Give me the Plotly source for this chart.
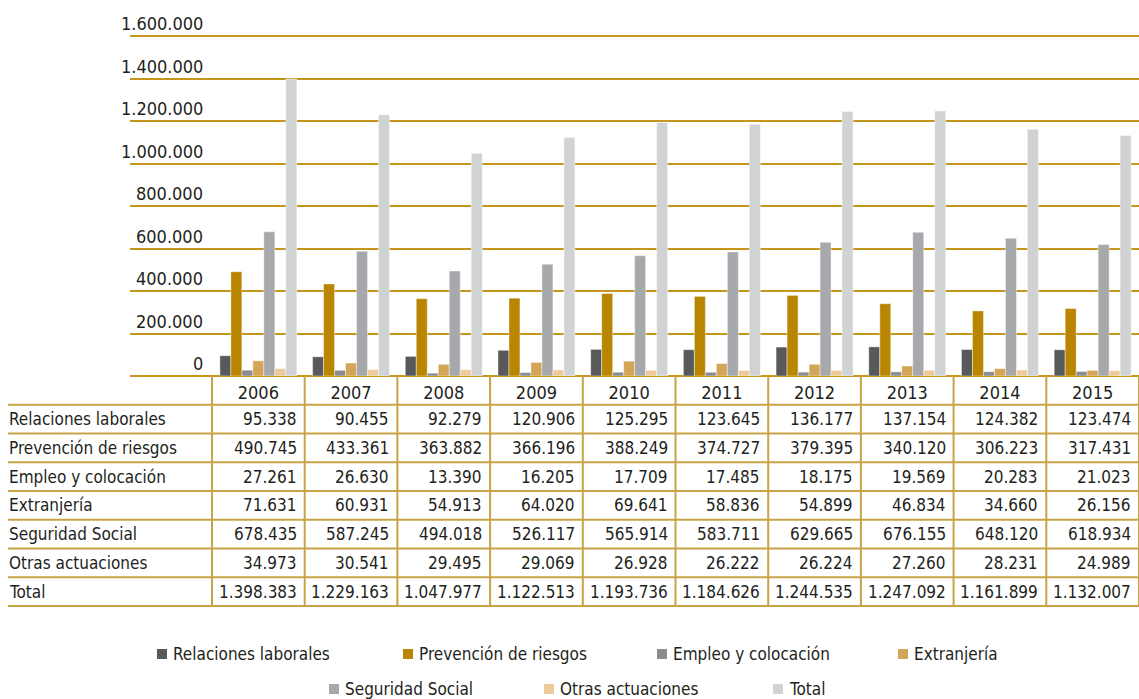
import plotly.graph_objects as go

years = ["2006", "2007", "2008", "2009", "2010", "2011", "2012", "2013", "2014", "2015"]
relaciones = [95338, 90455, 92279, 120906, 125295, 123645, 136177, 137154, 124382, 123474]
prevencion = [490745, 433361, 363882, 366196, 388249, 374727, 379395, 340120, 306223, 317431]
empleo = [27261, 26630, 13390, 16205, 17709, 17485, 18175, 19569, 20283, 21023]
extranjeria = [71631, 60931, 54913, 64020, 69641, 58836, 54899, 46834, 34660, 26156]
seguridad = [678435, 587245, 494018, 526117, 565914, 583711, 629665, 676155, 648120, 618934]
otras = [34973, 30541, 29495, 29069, 26928, 26222, 26224, 27260, 28231, 24989]
total = [1398383, 1229163, 1047977, 1122513, 1193736, 1184626, 1244535, 1247092, 1161899, 1132007]

series_names = ["Relaciones laborales", "Prevención de riesgos", "Empleo y colocación",
                "Extranjería", "Seguridad Social", "Otras actuaciones", "Total"]
series_values = [relaciones, prevencion, empleo, extranjeria, seguridad, otras, total]
series_colors = ["#58595b", "#b88600", "#8b8c8f", "#d4a556", "#a7a8ab", "#ecca9a", "#d1d2d4"]

y_ticks = [0, 200000, 400000, 600000, 800000, 1000000, 1200000, 1400000, 1600000]
Y_MAX = 1605000   # a little headroom so the 1.600.000 gridline is drawn

# legend layout: (row centre y px, marker left x px) for each series
legend_slots = [(654, 157), (654, 403), (654, 657), (654, 898),
                (689, 329), (689, 544), (689, 773)]

FONT = "DejaVu Sans Condensed, DejaVu Sans, sans-serif"
FS = 17
TEXT = "#231f20"
GRID = "#c4961a"
RULE = "#c9a446"

W, H = 1139, 699
L, T, B_PX = 130, 35, 376          # plot area left, top and bottom in pixels
PW, PH = W - L, B_PX - T
COL = (W - 212) / len(years)        # table column width
X0 = -0.5 - (212 - L) / COL         # category range start so columns begin at 212px


def fmt(v):
    return f"{v:,}".replace(",", ".")


def py_to_paper(py):
    return (B_PX - py) / PH


def px_to_paper(px):
    return (px - L) / PW


fig = go.Figure()
for name, vals, col in zip(series_names, series_values, series_colors):
    fig.add_trace(go.Bar(
        x=years, y=vals, name=name,
        marker=dict(color=col, line=dict(color="rgba(255,255,255,0.7)", width=0.6)),
        hovertemplate="%{x}<br>" + name + ": %{y:,}<extra></extra>",
    ))

annotations = []
shapes = []

# y tick labels sitting above each gridline
for v in y_ticks:
    annotations.append(dict(
        x=px_to_paper(205), xref="paper", xanchor="right",
        y=v, yref="y", yanchor="bottom", yshift=0,
        text=fmt(v), showarrow=False,
        font=dict(family=FONT, size=FS + 1, color=TEXT),
    ))

# data table below the chart
ROW_H = 28.75
for r, (name, vals) in enumerate(zip(series_names, series_values)):
    cy = B_PX + ROW_H * (r + 1.5)
    annotations.append(dict(
        x=px_to_paper(7), xref="paper", xanchor="left",
        y=py_to_paper(cy), yref="paper", yanchor="middle",
        text=name, showarrow=False,
        font=dict(family=FONT, size=FS, color=TEXT),
    ))
    for c, v in enumerate(vals):
        annotations.append(dict(
            x=c + 0.5, xref="x", xanchor="right", xshift=-6,
            y=py_to_paper(cy), yref="paper", yanchor="middle",
            text=fmt(v), showarrow=False,
            font=dict(family=FONT, size=FS, color=TEXT),
        ))

n_rows = len(series_values) + 1
# horizontal rules of the table
for r in range(1, n_rows + 1):
    py = B_PX + ROW_H * r
    shapes.append(dict(
        type="line", xref="paper", yref="paper",
        x0=px_to_paper(8), x1=1, y0=py_to_paper(py), y1=py_to_paper(py),
        line=dict(color=RULE, width=2),
    ))
# vertical rules of the table
for c in range(len(years) + 1):
    shapes.append(dict(
        type="line", xref="x", yref="paper",
        x0=c - 0.5, x1=c - 0.5,
        y0=0, y1=py_to_paper(B_PX + ROW_H * n_rows),
        line=dict(color=RULE, width=2),
    ))

# legend: coloured square followed by the series name
SQ = 10
for name, col, (cy, lx) in zip(series_names, series_colors, legend_slots):
    shapes.append(dict(
        type="rect", xref="paper", yref="paper",
        x0=px_to_paper(lx), x1=px_to_paper(lx + SQ),
        y0=py_to_paper(cy - SQ / 2), y1=py_to_paper(cy + SQ / 2),
        fillcolor=col, line=dict(width=0),
    ))
    annotations.append(dict(
        x=px_to_paper(lx + SQ + 4), xref="paper", xanchor="left",
        y=py_to_paper(cy), yref="paper", yanchor="middle",
        text=name, showarrow=False,
        font=dict(family=FONT, size=FS, color=TEXT),
    ))

fig.update_layout(
    width=W, height=H,
    margin=dict(l=L, r=0, t=T, b=H - B_PX, pad=0),
    paper_bgcolor="white", plot_bgcolor="white",
    barmode="group", bargap=0.17, bargroupgap=0,
    showlegend=False,
    font=dict(family=FONT, size=FS, color=TEXT),
    xaxis=dict(
        type="category", range=[X0, len(years) - 0.5],
        showgrid=False, zeroline=False, showline=False,
        ticks="", tickfont=dict(family=FONT, size=FS + 1, color=TEXT),
        ticklabelstandoff=4, automargin=False,
    ),
    yaxis=dict(
        range=[0, Y_MAX], tickvals=y_ticks, showticklabels=False,
        showgrid=True, gridcolor=GRID, gridwidth=1.6,
        zeroline=True, zerolinecolor=GRID, zerolinewidth=2,
        showline=False, ticks="", automargin=False,
    ),
    annotations=annotations,
    shapes=shapes,
)

fig.write_html("out.html")
